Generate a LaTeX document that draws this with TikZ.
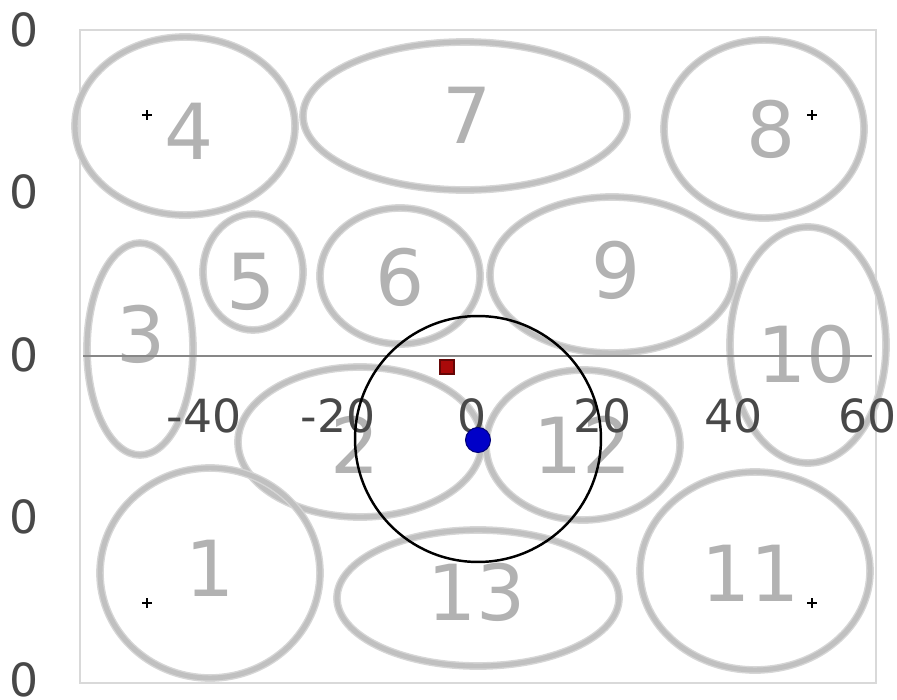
\documentclass[tikz,border=0pt]{standalone}
\usepackage{fontspec}
\setmainfont{DejaVu Sans}
\definecolor{blobgray}{RGB}{192,192,192}
\definecolor{halogray}{RGB}{214,214,214}
\definecolor{numgray}{RGB}{178,178,178}
\definecolor{tickgray}{RGB}{72,72,72}
\definecolor{darkred}{RGB}{170,10,10}
\definecolor{dotblue}{RGB}{0,0,200}
\usetikzlibrary{calc}

\begin{document}
\begin{tikzpicture}[x=0.02cm, y=-0.02cm,
  blob/.style={draw=blobgray, line width=2.8pt,
    preaction={draw=halogray, line width=4.4pt}},
  num/.style={font=\fontsize{44}{44}\selectfont, text=numgray, inner sep=0pt},
  ticklab/.style={font=\fontsize{26}{26}\selectfont, text=tickgray, inner sep=0pt},
  cross/.style={line width=1.3pt, black},
]
\useasboundingbox (0,0) rectangle (897,700);

% Frame of the plot
\draw[draw=black!15, line width=1.7pt] (80,30) rectangle (876,683);

% Regions
\draw[blob] (185,126) ellipse (110 and 89);
\draw[blob] (465,116) ellipse (162 and 74);
\draw[blob] (764,129) ellipse (100 and 89);
\draw[blob] (140,349) ellipse (53 and 106);
\draw[blob] (253,272) ellipse (50 and 58);
\draw[blob] (400,276) ellipse (80 and 68);
\draw[blob] (612,275) ellipse (122 and 78);
\draw[blob] (808,345) ellipse (78 and 118);
\draw[blob] (360,442) ellipse (122 and 75);
\draw[blob] (583,445) ellipse (97 and 75);
\draw[blob] (210,573) ellipse (110 and 105);
\draw[blob] (478,598) ellipse (141 and 68);
\draw[blob] (755,571) ellipse (115 and 99);

% Region numbers
\node[num] (n4) at (189,131) {4};
\node[num] (n7) at (467,115) {7};
\node[num] (n8) at (771,129) {8};
\node[num] (n3) at (141,334) {3};
\node[num] (n5) at (251,282) {5};
\node[num] (n6) at (400,277) {6};
\node[num] (n9) at (616,270) {9};
\node[num] (n10) at (807,354) {10};
\node[num] (n2) at (355,445) {2};
\node[num] (n12) at (583,445) {12};
\node[num] (n1) at (210,568) {1};
\node[num] (n13) at (477,592) {13};
\node[num] (n11) at (751,573) {11};

% Axis and tick labels
\draw[draw=black!47, line width=1.2pt] (83,356) -- (872,356);
\node[ticklab] (xm40) at (204,416) {-40};
\node[ticklab] (xm20) at (338,416) {-20};
\node[ticklab] (x0) at (472,416) {0};
\node[ticklab] (x20) at (603,416) {20};
\node[ticklab] (x40) at (734,416) {40};
\node[ticklab] (x60) at (868,416) {60};
\node[ticklab] (y1) at (24,30) {0};
\node[ticklab] (y2) at (24,192) {0};
\node[ticklab] (y3) at (24,355) {0};
\node[ticklab] (y4) at (24,517) {0};
\node[ticklab] (y5) at (24,680) {0};

% Corner markers
\draw[cross] (142,115) -- (152,115) (147,110) -- (147,120);
\draw[cross] (807,115) -- (817,115) (812,110) -- (812,120);
\draw[cross] (142,603) -- (152,603) (147,598) -- (147,608);
\draw[cross] (807,603) -- (817,603) (812,598) -- (812,608);

% Range circle, target and source
\node[circle, draw=black, line width=1.4pt, minimum size=4.92cm, inner sep=0pt] (range) at (478,439) {};
\node[rectangle, fill=darkred, draw=darkred!60!black, line width=0.6pt,
  minimum size=0.28cm, inner sep=0pt] (src) at (447,367) {};
\node[circle, fill=dotblue, draw=dotblue!60!black, line width=0.6pt,
  minimum size=0.5cm, inner sep=0pt] (tgt) at (478,440) {};
\end{tikzpicture}
\end{document}
